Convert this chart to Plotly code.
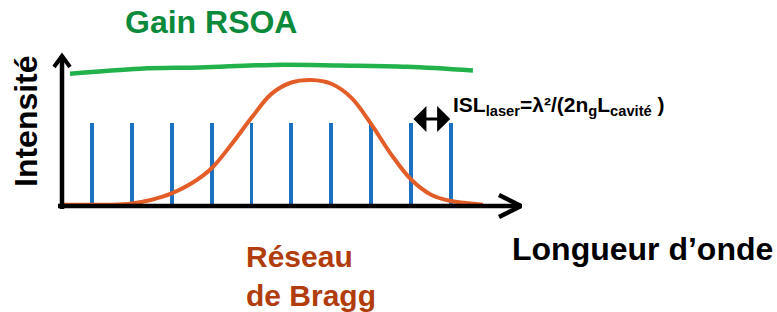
import plotly.graph_objects as go

# ---------------- data ----------------
# laser cavity modes (mode index) and their intensity
mode_x = [1, 2, 3, 4, 5, 6, 7, 8, 9, 10]
mode_h = [0.66, 0.66, 0.66, 0.66, 0.66, 0.66, 0.66, 0.66, 0.66, 0.66]

# Bragg grating reflectivity (orange)
bragg_x = [0.3, 1.0, 1.5, 2.0, 2.5, 3.0, 3.5, 4.0, 4.5, 5.0, 5.5, 6.0, 6.5,
           7.0, 7.5, 8.0, 8.5, 9.0, 9.5, 10.0, 10.5, 10.8]
bragg_y = [0.01, 0.01, 0.01, 0.02, 0.05, 0.10, 0.18, 0.30, 0.49, 0.70, 0.89, 0.98, 1.0,
           0.97, 0.86, 0.65, 0.41, 0.21, 0.09, 0.04, 0.02, 0.01]

# RSOA gain (green)
gain_x = [0.45, 2.21, 3.71, 5.54, 7.22, 8.90, 10.55]
gain_y = [1.05, 1.09, 1.10, 1.12, 1.115, 1.105, 1.075]

# ---------------- geometry helpers ----------------
W, H = 777, 312
X0, XS = 52.0, 39.9      # px = X0 + XS * x
Y0, YS = 206.0, 126.0    # py = Y0 - YS * y


def dx(px):
    return (px - X0) / XS


def dy(py):
    return (Y0 - py) / YS


BLUE = "#1c72c2"
ORANGE = "#e25d27"
GREEN = "#22b24c"
FONT = "Liberation Sans, Arial, sans-serif"

fig = go.Figure()

# laser modes
fig.add_trace(go.Bar(x=mode_x, y=mode_h, width=0.1, marker=dict(color=BLUE, line=dict(width=0)),
                     hoverinfo="skip"))

# Bragg curve
fig.add_trace(go.Scatter(x=bragg_x, y=bragg_y, mode="lines",
                         line=dict(color=ORANGE, width=4, shape="spline", smoothing=1.0),
                         hoverinfo="skip"))

# gain curve
fig.add_trace(go.Scatter(x=gain_x, y=gain_y, mode="lines",
                         line=dict(color=GREEN, width=4.5, shape="spline"),
                         hoverinfo="skip"))

# axes drawn as arrows
ox, oy = dx(62), 0.0
xtip, ytip = dx(521), dy(56)
fig.add_trace(go.Scatter(x=[dx(58), xtip], y=[oy, oy], mode="lines",
                         line=dict(color="black", width=4.5), hoverinfo="skip"))
fig.add_trace(go.Scatter(x=[ox, ox], y=[dy(209), ytip], mode="lines",
                         line=dict(color="black", width=4.5), hoverinfo="skip"))
fig.add_trace(go.Scatter(x=[dx(499), xtip, dx(499)], y=[dy(195), oy, dy(217)], mode="lines",
                         line=dict(color="black", width=4.5), hoverinfo="skip"))
fig.add_trace(go.Scatter(x=[dx(54), ox, dx(70)], y=[dy(67), ytip, dy(67)], mode="lines",
                         line=dict(color="black", width=4), hoverinfo="skip"))

# FSR double arrow
fig.add_annotation(x=mode_x[-1] - 0.02, y=dy(119), ax=mode_x[-2] + 0.02, ay=dy(119),
                   xref="x", yref="y", axref="x", ayref="y", text="",
                   showarrow=True, arrowhead=1, arrowside="end+start",
                   arrowsize=1.45, arrowwidth=3, arrowcolor="black", standoff=0, startstandoff=0)


def ann(text, x, y, size, color, xanchor="center", yanchor="middle", angle=0, align="center"):
    fig.add_annotation(x=x / W, y=1 - y / H, xref="paper", yref="paper", text=text,
                       showarrow=False, xanchor=xanchor, yanchor=yanchor, textangle=angle,
                       align=align, font=dict(family=FONT, size=size, color=color))


ann("<b>Gain RSOA</b>", 211, 22, 32, "#0c8a3c")
ann("<b>Intensité</b>", 26, 121, 32, "black", angle=-90)
ann("<b>Longueur d’onde</b>", 642, 249, 32, "black")
ann("<b>Réseau<br>de Bragg</b>", 244, 276, 30, "#b23d0c", xanchor="left", align="left")
ann("<b>ISL<sub>laser</sub>=λ²/(2n<sub>g</sub>L<sub>cavité</sub> )</b>", 451, 106, 21, "black",
    xanchor="left")

fig.update_layout(
    width=W, height=H, margin=dict(l=0, r=0, t=0, b=0),
    paper_bgcolor="white", plot_bgcolor="white", showlegend=False,
    xaxis=dict(range=[dx(0), dx(W)], visible=False, fixedrange=True),
    yaxis=dict(range=[dy(H), dy(0)], visible=False, fixedrange=True),
    bargap=0,
)

fig.write_html("out.html", config={"displayModeBar": False},
               post_script="document.body.style.margin='0';document.body.style.overflow='hidden';")
